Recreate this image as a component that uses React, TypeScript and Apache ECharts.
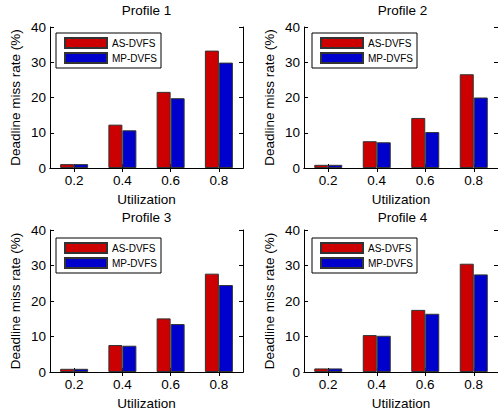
import React, { useEffect, useRef } from "react";
import * as echarts from "echarts";

const categories = ["0.2", "0.4", "0.6", "0.8"];
const titles = ["Profile 1", "Profile 2", "Profile 3", "Profile 4"];
const seriesNames = ["AS-DVFS", "MP-DVFS"];
const yTicks = { min: 0, max: 40, interval: 10 };

const asDvfs1 = [1.1, 12.3, 21.6, 33.3];
const mpDvfs1 = [1.1, 10.7, 19.8, 29.9];
const asDvfs2 = [0.9, 7.6, 14.2, 26.6];
const mpDvfs2 = [0.9, 7.3, 10.2, 20.0];
const asDvfs3 = [0.9, 7.6, 15.1, 27.7];
const mpDvfs3 = [0.9, 7.4, 13.5, 24.5];
const asDvfs4 = [1.0, 10.4, 17.5, 30.5];
const mpDvfs4 = [1.0, 10.2, 16.4, 27.5];

const asData = [asDvfs1, asDvfs2, asDvfs3, asDvfs4];
const mpData = [mpDvfs1, mpDvfs2, mpDvfs3, mpDvfs4];

const FONT = "'Liberation Sans', Arial, Helvetica, sans-serif";
const RED = "#cc0000";
const BLUE = "#0000cc";

const panels = [
  { left: 50, top: 27, width: 193, height: 141, titleTop: 3, legLeft: 56, legTop: 33 },
  { left: 304, top: 27, width: 196, height: 141, titleTop: 3, legLeft: 312, legTop: 33 },
  { left: 50, top: 230, width: 193, height: 143, titleTop: 210, legLeft: 56, legTop: 238 },
  { left: 304, top: 230, width: 196, height: 143, titleTop: 210, legLeft: 312, legTop: 238 },
];

export default function App() {
  const ref = useRef<HTMLDivElement>(null);
  useEffect(() => {
    if (!ref.current) return;
    const chart = echarts.init(ref.current, undefined, { renderer: "svg" });
    const lineStyle = { color: "#000", width: 1 };
    const grid = panels.map((p) => ({ left: p.left, top: p.top, width: p.width, height: p.height, containLabel: false }));
    const title = panels.map((p, i) => ({
      text: titles[i],
      left: p.left + 193 / 2 + (i % 2 === 1 ? 2 : 0),
      top: p.titleTop,
      textAlign: "center",
      padding: 0,
      textStyle: { fontFamily: FONT, fontSize: 13.5, fontWeight: "normal", color: "#000" },
    }));
    const legend = panels.map((p) => ({
      data: seriesNames,
      orient: "vertical",
      left: p.legLeft,
      top: p.legTop,
      padding: [4, 4, 4, 8],
      itemGap: 3,
      itemWidth: 42,
      itemHeight: 10,
      icon: "rect",
      borderColor: "#000",
      borderWidth: 1,
      backgroundColor: "#fff",
      selectedMode: false,
      textStyle: { fontFamily: FONT, fontSize: 10, color: "#000" },
    }));
    const xAxis: any[] = [];
    panels.forEach((_, i) => {
      xAxis.push({
        type: "category",
        gridIndex: i,
        data: categories,
        position: "bottom",
        name: "Utilization",
        nameLocation: "middle",
        nameGap: 24,
        nameTextStyle: { fontFamily: FONT, fontSize: 13.5, color: "#000" },
        axisLine: { show: true, lineStyle },
        axisTick: { show: true, inside: true, length: 4, alignWithLabel: true, lineStyle },
        axisLabel: { fontFamily: FONT, fontSize: 13.5, color: "#000", margin: 5 },
        splitLine: { show: false },
      });
    });
    panels.forEach((_, i) => {
      xAxis.push({
        type: "category",
        gridIndex: i,
        data: categories,
        position: "top",
        axisLine: { show: true, lineStyle },
        axisTick: { show: true, inside: true, length: 4, alignWithLabel: true, lineStyle },
        axisLabel: { show: false },
        splitLine: { show: false },
      });
    });
    const yAxis: any[] = [];
    panels.forEach((_, i) => {
      yAxis.push({
        type: "value",
        gridIndex: i,
        position: "left",
        min: yTicks.min,
        max: yTicks.max,
        interval: yTicks.interval,
        name: "Deadline miss rate (%)",
        nameLocation: "middle",
        nameGap: 28,
        nameTextStyle: { fontFamily: FONT, fontSize: 13.5, color: "#000" },
        axisLine: { show: true, lineStyle },
        axisTick: { show: true, inside: true, length: 4, lineStyle },
        axisLabel: { fontFamily: FONT, fontSize: 13.5, color: "#000", margin: 4 },
        splitLine: { show: false },
      });
    });
    panels.forEach((_, i) => {
      yAxis.push({
        type: "value",
        gridIndex: i,
        position: "right",
        min: yTicks.min,
        max: yTicks.max,
        interval: yTicks.interval,
        axisLine: { show: true, lineStyle },
        axisTick: { show: true, inside: true, length: 4, lineStyle },
        axisLabel: { show: false },
        splitLine: { show: false },
      });
    });
    const series: any[] = [];
    panels.forEach((_, i) => {
      series.push({
        type: "bar",
        name: seriesNames[0],
        xAxisIndex: i,
        yAxisIndex: i,
        data: asData[i],
        barWidth: 14,
        barGap: "0%",
        itemStyle: { color: RED, borderColor: "#333", borderWidth: 1 },
      });
      series.push({
        type: "bar",
        name: seriesNames[1],
        xAxisIndex: i,
        yAxisIndex: i,
        data: mpData[i],
        barWidth: 14,
        barGap: "0%",
        itemStyle: { color: BLUE, borderColor: "#333", borderWidth: 1 },
      });
    });
    chart.setOption({
      animation: false,
      backgroundColor: "#fff",
      title,
      legend,
      grid,
      xAxis,
      yAxis,
      series,
    });
    return () => chart.dispose();
  }, []);
  return (
    <div
      ref={ref}
      style={{ position: "fixed", left: 0, top: 0, width: 498, height: 411 }}
    />
  );
}
